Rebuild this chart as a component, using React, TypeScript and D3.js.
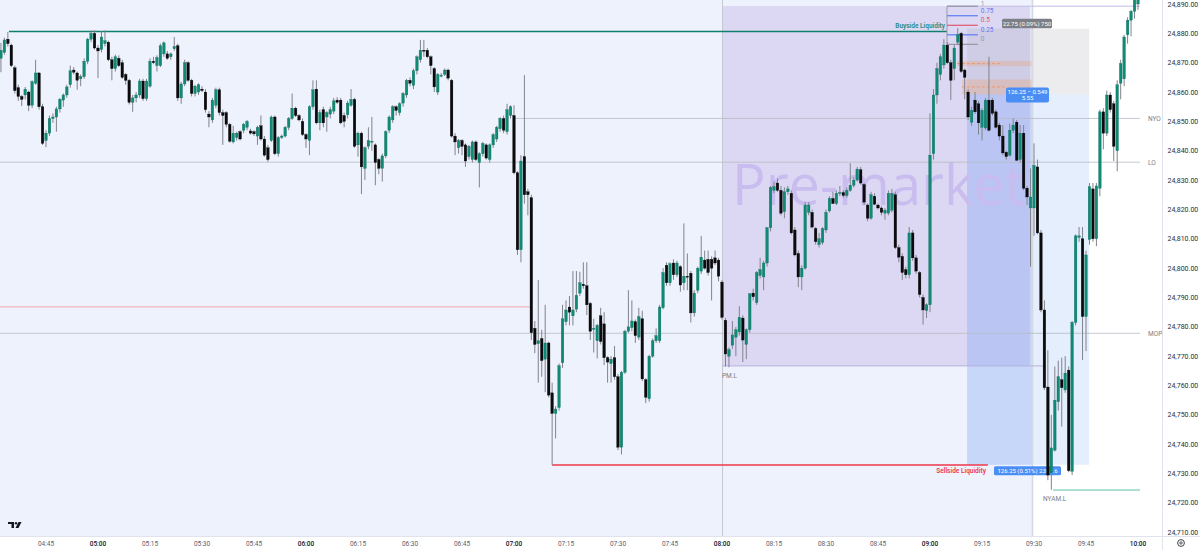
import React from 'react';
import * as d3 from 'd3';

type C = [number, number, number, number]; // open, high, low, close

// 04:32 – 05:58 (1-minute candles)
const seg0432: C[] = [
  [24871.5, 24876.75, 24866.75, 24874.25], [24873.5, 24878.5, 24872.75, 24877.75], [24878, 24880.5, 24875.5, 24876.5],
  [24876, 24876.5, 24868.5, 24869], [24868.25, 24869, 24859.5, 24860.5], [24861.5, 24862.5, 24857, 24858.5],
  [24858.5, 24859, 24855.25, 24857.5], [24859, 24861.75, 24857.5, 24861], [24860, 24860.5, 24853.5, 24855.5],
  [24855.5, 24864, 24854.5, 24863.5], [24863, 24871, 24862.5, 24866.5], [24866.5, 24866.75, 24854, 24855],
  [24855, 24856, 24842, 24842.5], [24843.5, 24847, 24841.25, 24846], [24846, 24852, 24845, 24851],
  [24851, 24852.75, 24849.5, 24851.5], [24851.5, 24855, 24846.5, 24854.25], [24854.25, 24858, 24853, 24857.5],
  [24857.25, 24859.5, 24855, 24859], [24859, 24862.5, 24858, 24861.75], [24862.5, 24869, 24861.5, 24867.25],
  [24867.5, 24868.5, 24866, 24866.75], [24866.5, 24867, 24860.75, 24864], [24864.5, 24866, 24862, 24865.25],
  [24865.25, 24871.5, 24864.5, 24870.5], [24870.5, 24878.5, 24869.5, 24878], [24878, 24881, 24877, 24880],
  [24880, 24881, 24874.5, 24875], [24875, 24876, 24864.75, 24874], [24874.5, 24880.75, 24873.5, 24878.75],
  [24876.5, 24881, 24875.5, 24877.5], [24877, 24877.5, 24870.5, 24871], [24871, 24872, 24864, 24868],
  [24868, 24872.75, 24867, 24872], [24871.5, 24872.5, 24868.5, 24869], [24870, 24871, 24864.5, 24865],
  [24866, 24866.5, 24862.5, 24864], [24864, 24864.5, 24855.75, 24856.5], [24856.5, 24859, 24853.25, 24858],
  [24858, 24860, 24856.5, 24859], [24859, 24864.5, 24858, 24863.75], [24863.75, 24864.5, 24857, 24857.75],
  [24857.75, 24864.5, 24857, 24863.75], [24862, 24871.5, 24861.5, 24870.5], [24870.5, 24872, 24869.5, 24870],
  [24869, 24872.5, 24867, 24871.75], [24869, 24876.5, 24868.5, 24875.75], [24873, 24877.25, 24872, 24876.75],
  [24873, 24874, 24871, 24871.5], [24872, 24873.5, 24871, 24873], [24874.75, 24878.75, 24874, 24875.5],
  [24875.75, 24876.5, 24857, 24858], [24858, 24863.5, 24856, 24862.75], [24862.75, 24871, 24862, 24870],
  [24870, 24870.5, 24863.5, 24864], [24864, 24864.5, 24858.5, 24859.5], [24859.5, 24862.5, 24858.5, 24862],
  [24860, 24863, 24859, 24862.5], [24861, 24862, 24860, 24860.5], [24860, 24861, 24853, 24854],
  [24852.5, 24853.5, 24848, 24851.5], [24850.5, 24858, 24849.5, 24857.25], [24855.5, 24861.5, 24854.5, 24860.75],
  [24860.75, 24861.5, 24852, 24853], [24853, 24854, 24842, 24852], [24853, 24853.5, 24848, 24849],
  [24849, 24849.5, 24842.75, 24843.25], [24843, 24848.5, 24842.5, 24846], [24844.5, 24846.5, 24843.5, 24846],
  [24846.5, 24847, 24843.5, 24844], [24847, 24849.5, 24846, 24849], [24848, 24850.5, 24847, 24850],
  [24846.75, 24847.5, 24845.5, 24846], [24846.5, 24847, 24845, 24845.75], [24845, 24848.5, 24842, 24848],
  [24848.5, 24852, 24843.5, 24844], [24844, 24845, 24838, 24838.5], [24841, 24842, 24836.25, 24837],
  [24843.5, 24852, 24843, 24851.5], [24851.5, 24852, 24838.5, 24839], [24839, 24845, 24838, 24844.5],
  [24844.5, 24845.5, 24844, 24845], [24845, 24848.5, 24844.5, 24848], [24848, 24851.5, 24847, 24851],
  [24851, 24859.5, 24850.5, 24854.5], [24854.5, 24855, 24851.5, 24852], [24852, 24852.5, 24850, 24850.5],
];

// 05:59 – 07:00
const seg0559: C[] = [
  [24850, 24851, 24845, 24845.5], [24845.5, 24846, 24841, 24844], [24843.5, 24855.5, 24838.5, 24855],
  [24855, 24864, 24854, 24860.75], [24861, 24864, 24849, 24849.5], [24849.5, 24854, 24847, 24853],
  [24854, 24855, 24848, 24849.5], [24851.5, 24853.5, 24846.5, 24853], [24852.5, 24855, 24851, 24854],
  [24853.5, 24858, 24852.5, 24857], [24857.25, 24858.25, 24856, 24856.5], [24857.25, 24858, 24849, 24849.5],
  [24852, 24853, 24848, 24850], [24852.25, 24857, 24851, 24856.25], [24855.5, 24861, 24855, 24857.5],
  [24857.5, 24858, 24841, 24841.5], [24842, 24846.5, 24838, 24846], [24846, 24846.5, 24825.25, 24834.5],
  [24834, 24841.5, 24830, 24841], [24841.5, 24848, 24840.5, 24843.5], [24843, 24851.5, 24840, 24843.25],
  [24842, 24842.5, 24828.25, 24836], [24837, 24837.5, 24832, 24834], [24834, 24839, 24829.5, 24838.25],
  [24838.25, 24847, 24837.5, 24846.5], [24847, 24852, 24846, 24851.5], [24850.5, 24855.5, 24849.5, 24855],
  [24855, 24855.5, 24852, 24853.75], [24853, 24856.5, 24852, 24856], [24856.25, 24860, 24855, 24859.5],
  [24859, 24864.5, 24858, 24864], [24864, 24865, 24862, 24863], [24862.25, 24868, 24861, 24867.25],
  [24867.25, 24872.5, 24866, 24872], [24871, 24877.75, 24870, 24874.25], [24874.25, 24877.75, 24872, 24874],
  [24874.25, 24875, 24871.5, 24872], [24872, 24872.5, 24866, 24869], [24868, 24868.5, 24860, 24861.75],
  [24860, 24866.5, 24859, 24866], [24865.5, 24866.5, 24865, 24865.75], [24866, 24868, 24865.5, 24867.5],
  [24867.5, 24868, 24864, 24864.75], [24864, 24864.5, 24844.5, 24845], [24845, 24846, 24838.5, 24843],
  [24841, 24844, 24839, 24843.5], [24843.5, 24844, 24838.5, 24841.5], [24842, 24842.5, 24834.5, 24836.5],
  [24838, 24842, 24837, 24841.5], [24837, 24843.5, 24836, 24843], [24843, 24843.5, 24836.5, 24837],
  [24836, 24839.5, 24827.5, 24839], [24839, 24843, 24838, 24842.5], [24842, 24842.5, 24837, 24837.5],
  [24837, 24842.5, 24836, 24842], [24842, 24846, 24841, 24845.5], [24844, 24848.5, 24843, 24848],
  [24847.5, 24851.5, 24846.5, 24851], [24851, 24852, 24846, 24847], [24846.5, 24856, 24845.5, 24854],
  [24852, 24855.5, 24851, 24855], [24852, 24855.5, 24832, 24832.5],
];

// 07:01 – 07:59
const seg0701: C[] = [
  [24832.5, 24833, 24804.5, 24806.25], [24806.25, 24838.5, 24802, 24836.5], [24838, 24865.75, 24822, 24825],
  [24826, 24827, 24818, 24825], [24824, 24825, 24775.5, 24778], [24779.5, 24782, 24771, 24774],
  [24774.25, 24796, 24761, 24775.25], [24776, 24779, 24763, 24768.5], [24769, 24787.5, 24757.75, 24774.5],
  [24774.5, 24775, 24756, 24756.75], [24757.5, 24761, 24733, 24750.5], [24750.5, 24753, 24742, 24752],
  [24752.5, 24767.5, 24751.5, 24766.75], [24767.75, 24787.5, 24766, 24782.75], [24781.75, 24789, 24780.5, 24785.75],
  [24786.75, 24790.5, 24780.5, 24785], [24783.75, 24799, 24780.5, 24785.75], [24786, 24799, 24785, 24790.75],
  [24791.5, 24798.75, 24790.5, 24795], [24794.5, 24802, 24793, 24794], [24794, 24802, 24784, 24787.5],
  [24788, 24788.5, 24775.5, 24778.5], [24779.25, 24782.75, 24771.25, 24779.5], [24775.25, 24781, 24769.25, 24780.5],
  [24783.75, 24786.5, 24774, 24775], [24781, 24785, 24767, 24769.5], [24769.5, 24770, 24761, 24768],
  [24767.5, 24770, 24761, 24769], [24769.5, 24773.5, 24762, 24763], [24763, 24764, 24738, 24739],
  [24739, 24765, 24736.5, 24764.5], [24764.5, 24779, 24764, 24778.5], [24778.5, 24792.5, 24778, 24780],
  [24779.75, 24789, 24778.5, 24782], [24781.75, 24782.5, 24774.5, 24777], [24776.5, 24786.5, 24775.5, 24783.5],
  [24782.75, 24785.5, 24761.5, 24762.25], [24762, 24762.5, 24754, 24756], [24755.5, 24770.5, 24754.5, 24770],
  [24770, 24776, 24769.5, 24775.25], [24775.25, 24779.5, 24774.5, 24777], [24775.25, 24787.5, 24774.5, 24786.75],
  [24786.5, 24800, 24786, 24798.5], [24801, 24802, 24794, 24795], [24795, 24802, 24794, 24801.5],
  [24801.75, 24803, 24796, 24797.75], [24797.75, 24802.5, 24797, 24801.75], [24800.5, 24801, 24792, 24794.25],
  [24795, 24815.25, 24792.5, 24797.25], [24797.25, 24805, 24792.5, 24797], [24798.25, 24799, 24781.5, 24784.75],
  [24784.75, 24792.5, 24783.5, 24791.5], [24792.5, 24800.5, 24791.5, 24800], [24799, 24811, 24798, 24803.75],
  [24802.75, 24806, 24799.5, 24800], [24803, 24806, 24797.5, 24798.5], [24803, 24804, 24789, 24800],
  [24803.5, 24806, 24801, 24801.75], [24802.75, 24803.5, 24795.5, 24797.25],
];

// 08:00 – 08:59
const seg0800: C[] = [
  [24795.25, 24796, 24782.5, 24783.25], [24782.25, 24783, 24766.5, 24770.75], [24770, 24773, 24766.25, 24772.25],
  [24773.75, 24782, 24772.5, 24777.25], [24776.5, 24780, 24770, 24779], [24778.25, 24787, 24777, 24783.25],
  [24783, 24784, 24768, 24775.5], [24774, 24779.5, 24769, 24779], [24779, 24791.5, 24778, 24791.25],
  [24791.5, 24793, 24789, 24790.25], [24788.25, 24799, 24787.5, 24798.5], [24797.5, 24803.5, 24796.5, 24799.5],
  [24797, 24802.5, 24792.5, 24801.75], [24801.75, 24814, 24800.5, 24813.75], [24813.75, 24828, 24812.5, 24827.5],
  [24826.5, 24829.5, 24825.5, 24827.75], [24829, 24830.5, 24826, 24826.5], [24826.5, 24828, 24818, 24818.75],
  [24819.25, 24827.5, 24817, 24826], [24826, 24828, 24825, 24827], [24825.5, 24826.5, 24811.5, 24812],
  [24813, 24814, 24804, 24804.5], [24805, 24806, 24793.5, 24797], [24797, 24801, 24792.5, 24800],
  [24800, 24822.5, 24799.5, 24821.5], [24819, 24822.5, 24818, 24821.5], [24819, 24820, 24813.5, 24814],
  [24813.5, 24814, 24808, 24809], [24808, 24812, 24807, 24810], [24808.75, 24814, 24808, 24813.5],
  [24813, 24820, 24812, 24819], [24819.5, 24824.5, 24819, 24823.75], [24823.75, 24826, 24822, 24822],
  [24822, 24826.5, 24821.5, 24825.5], [24825.5, 24828, 24824.5, 24825.75], [24825.75, 24826.5, 24824, 24824.75],
  [24824.75, 24827.5, 24824, 24826.5], [24826.5, 24835.75, 24826, 24828.25], [24828.25, 24831, 24827.5, 24830],
  [24830, 24834.5, 24829.5, 24833.75], [24833.5, 24834.5, 24828.5, 24829], [24828.5, 24829, 24821.5, 24822.5],
  [24821.5, 24822, 24816, 24817], [24817, 24826, 24816.5, 24825], [24824.5, 24825.5, 24821.5, 24821.75],
  [24821.5, 24822, 24820, 24820.5], [24820.5, 24821, 24818, 24819], [24818.75, 24820.5, 24816.5, 24819.75],
  [24818.75, 24826.5, 24818, 24825.5], [24819.75, 24827, 24819, 24825.5], [24825, 24826, 24806.5, 24807],
  [24807, 24808, 24802, 24803.75], [24804, 24805, 24796, 24798.5], [24799.5, 24800.5, 24796.5, 24797.75],
  [24797.75, 24814, 24796.5, 24812], [24812, 24813, 24802.5, 24803.5], [24803.5, 24804.5, 24798, 24799],
  [24798.5, 24799, 24790, 24791], [24790, 24791, 24780.75, 24785.75], [24785.5, 24788, 24783, 24787.5],
];

// 09:00 – 10:00
const seg0900: C[] = [
  [24787.5, 24852.75, 24785, 24838.5], [24839, 24861, 24837, 24859], [24859, 24870, 24856, 24868],
  [24866, 24873, 24864, 24872], [24869.25, 24878, 24868, 24876], [24876, 24877, 24869.5, 24870],
  [24870, 24871, 24857.25, 24864], [24868, 24876, 24864, 24875], [24877, 24881.75, 24876, 24879.5],
  [24880, 24880.5, 24866.5, 24867], [24867.5, 24868, 24857.5, 24865], [24860, 24861, 24850.5, 24851.5],
  [24849.75, 24855, 24848.5, 24853.75], [24857.25, 24860, 24852.5, 24853.25], [24856, 24857, 24845.5, 24849.5],
  [24848, 24854.5, 24843.5, 24853.75], [24847.75, 24858, 24847, 24857.25], [24857.25, 24872, 24846.5, 24847],
  [24857.25, 24858, 24852, 24852.75], [24853.25, 24854, 24847.5, 24848], [24848.75, 24849.5, 24843.5, 24845],
  [24845, 24848.75, 24838.5, 24839.25], [24839.5, 24840, 24837, 24838], [24838.5, 24849.25, 24838, 24847],
  [24847, 24851, 24846, 24848.75], [24849.75, 24850.5, 24836.5, 24836.75], [24837, 24848.75, 24836, 24846],
  [24846, 24848.75, 24826.5, 24827.25], [24827.25, 24828, 24821.5, 24824.25], [24820.5, 24834, 24800.5, 24824.25],
  [24820.5, 24842.5, 24811, 24835], [24834.5, 24837, 24811.5, 24812], [24812, 24813, 24785, 24785.75],
  [24785.75, 24789, 24758.5, 24759.25], [24759.5, 24772, 24727.75, 24729.5], [24730.25, 24750, 24724.5, 24738.75],
  [24738, 24766.5, 24737.5, 24755], [24754.5, 24768.5, 24751.5, 24763], [24762, 24769.5, 24746, 24759.25],
  [24758.5, 24770, 24757.5, 24764.25], [24765.25, 24766.5, 24730.5, 24731], [24730.75, 24782, 24729.5, 24781.5],
  [24781.5, 24811.5, 24780.5, 24811], [24810.5, 24814, 24809, 24811], [24810, 24814, 24768.75, 24783.5],
  [24783.5, 24806, 24771.75, 24804.5], [24809.75, 24829, 24808, 24827.75], [24827, 24829, 24809, 24810],
  [24810, 24829, 24807.5, 24828], [24827.25, 24854, 24824.5, 24853.25], [24853.25, 24854.5, 24840.5, 24846],
  [24846, 24860.5, 24845, 24859], [24859, 24860, 24853, 24854], [24856, 24857, 24836.5, 24841.5],
  [24840, 24864, 24833, 24862.5], [24863, 24871, 24857.5, 24869.75], [24864.5, 24879.5, 24862, 24878.75],
  [24879.5, 24885.5, 24876.5, 24884.5], [24884.5, 24888, 24879, 24887.5], [24887.5, 24892, 24885, 24891.5],
  [24890, 24894, 24888, 24892.5],
];

const priceTicks = [24710, 24720, 24730, 24740, 24750, 24760, 24770, 24780, 24790, 24800, 24810, 24820, 24830, 24840, 24850, 24860, 24870, 24880, 24890];
const timeTicks = ['04:45', '05:00', '05:15', '05:30', '05:45', '06:00', '06:15', '06:30', '06:45', '07:00', '07:15', '07:30', '07:45', '08:00', '08:15', '08:30', '08:45', '09:00', '09:15', '09:30', '09:45', '10:00'];
const firstBar = '04:32';

// horizontal levels: [label, price, fromIndex]
const grayLevels: [string, number, number][] = [
  ['NYO', 24851, 147.7],
  ['LO', 24836.1, -2],
  ['MOP', 24777.8, -2],
];
const buyside = { label: 'Buyside Liquidity', price: 24880.6, from: 2.3, to: 272.9 };
const sellside = { label: 'Sellside Liquidity', price: 24732.9, from: 159, to: 284.7 };
const redLevel = { price: 24786.8, from: -2, to: 152.6 };
const nyamLow = { label: 'NYAM.L', price: 24724.4, from: 303.5 };
const preMarket = { label: 'Pre-market', from: 208, to: 296.8, top: 24889.3, low: 24766.7, lowLabel: 'PM.L', lowTo: 301.2 };
const position = { from: 278.7, to: 313.9, entry: 24859.2, target: 24881.6, stop: 24733 };
const fibLevels: [string, number, string][] = [
  ['1', 1, '#8f93a0'], ['0.75', 0.75, '#5b7cf0'], ['0.5', 0.5, '#e0566b'], ['0.25', 0.25, '#5b7cf0'], ['0', 0, '#9598a1'],
];
const fib = { from: 272.9, to: 281.8, p0: 24876.25, p1: 24889.25 };
const fvgs: [number, number, number][] = [
  [275.8, 24870.6, 24868.8],
  [277.2, 24864.3, 24859.2],
];

const FONT = 'Roboto, "Liberation Sans", Arial, sans-serif';

export default function App() {
  const candles = [...seg0432, ...seg0559, ...seg0701, ...seg0800, ...seg0900];
  const plotRight = 1162.5;
  const plotBottom = 536.5;
  const y = d3.scaleLinear().domain([24710, 24890]).range([532.3, 4.0]);
  const step = 3.4667;
  const x = d3.scaleLinear().domain([0, candles.length - 1]).range([0.93, 0.93 + (candles.length - 1) * step]);
  const toMin = (s: string) => { const [h, m] = s.split(':').map(Number); return h * 60 + m; };
  const t0 = toMin(firstBar);
  const tx = (s: string) => x(toMin(s) - t0);
  const lineEnd = x(candles.length - 1) + 2;
  const sessionEnd = tx('09:30') - 2;
  const bw = 2.6;

  const fibY = (r: number) => y(fib.p0 + (fib.p1 - fib.p0) * r);

  return (
    <div style={{ position: 'absolute', left: 0, top: 0, width: 1200, height: 550, background: '#fff' }}>
      <svg width={1200} height={550} style={{ display: 'block', fontFamily: FONT }}>
        <defs>
          <clipPath id="plot"><rect x={0} y={0} width={plotRight} height={plotBottom} /></clipPath>
        </defs>
        <rect x={0} y={0} width={1200} height={550} fill="#ffffff" />
        <g clipPath="url(#plot)">
          {/* session background */}
          <rect x={0} y={0} width={sessionEnd} height={plotBottom} fill="#eef2fd" />
          {/* pre-market box */}
          <rect x={x(preMarket.from)} y={y(preMarket.top)} width={x(preMarket.to) - x(preMarket.from)} height={y(preMarket.low) - y(preMarket.top)} fill="#dcd8f4" />
          {/* position tool: profit (gray) and risk (blue) zones */}
          <rect x={x(position.from)} y={y(position.target)} width={x(position.to) - x(position.from)} height={y(position.entry) - y(position.target)} fill="rgba(150,150,160,0.18)" />
          <rect x={x(position.from)} y={y(position.entry)} width={x(position.to) - x(position.from)} height={y(position.stop) - y(position.entry)} fill="rgba(120,170,245,0.20)" />
          <rect x={x(position.from)} y={y(position.entry)} width={sessionEnd - x(position.from)} height={y(position.stop) - y(position.entry)} fill="rgba(90,130,235,0.12)" />
          {/* watermark */}
          <text x={x(preMarket.from) + 10} y={205} fontSize={56} fill="#c8bdee" fontFamily='"Open Sans", "Noto Sans", sans-serif'>{preMarket.label}</text>
          {/* FVG boxes */}
          {fvgs.map(([from, top, bot], k) => (
            <g key={'fvg' + k}>
              <rect x={x(from)} y={y(top)} width={sessionEnd - x(from)} height={y(bot) - y(top)} fill="rgba(245,140,70,0.22)" />
              <line x1={x(from)} x2={x(from) + 45} y1={(y(top) + y(bot)) / 2} y2={(y(top) + y(bot)) / 2} stroke="#f09a6a" strokeWidth={1} strokeDasharray="3,2" />
            </g>
          ))}
          {/* session dividers */}
          <line x1={tx('08:00') + 0.5} x2={tx('08:00') + 0.5} y1={0} y2={plotBottom} stroke="#c6c9d2" strokeWidth={1} />
          <line x1={sessionEnd + 0.5} x2={sessionEnd + 0.5} y1={0} y2={plotBottom} stroke="#d5d8e0" strokeWidth={1.5} />
          {/* gray levels */}
          {grayLevels.map(([label, p, from]) => (
            <g key={label}>
              <line x1={x(from)} x2={lineEnd} y1={y(p)} y2={y(p)} stroke="#b8bbc4" strokeWidth={0.8} />
              <text x={1148} y={y(p) + 2.5} fontSize={6.5} fill="#7b7e88">{label}</text>
            </g>
          ))}
          {/* red previous level */}
          <line x1={x(redLevel.from)} x2={x(redLevel.to)} y1={y(redLevel.price)} y2={y(redLevel.price)} stroke="#f4a3aa" strokeWidth={1} />
          {/* buyside */}
          <line x1={x(buyside.from)} x2={x(buyside.to)} y1={y(buyside.price)} y2={y(buyside.price)} stroke="#0f7f6e" strokeWidth={1.5} />
          <text x={x(buyside.to) - 2} y={y(buyside.price) - 4} fontSize={6.5} fill="#2b8a80" textAnchor="end" fontWeight={600}>{buyside.label}</text>
          {/* sellside */}
          <line x1={x(sellside.from)} x2={x(sellside.to)} y1={y(sellside.price)} y2={y(sellside.price)} stroke="#ef3849" strokeWidth={1.5} />
          <text x={x(sellside.to) - 2} y={y(sellside.price) + 7.5} fontSize={6.5} fill="#ef3849" textAnchor="end" fontWeight={600}>{sellside.label}</text>
          {/* PM low */}
          <line x1={x(preMarket.from)} x2={x(preMarket.lowTo)} y1={y(preMarket.low)} y2={y(preMarket.low)} stroke="#b7b0dd" strokeWidth={1} />
          <text x={x(preMarket.from)} y={y(preMarket.low) + 12} fontSize={6.5} fill="#7b7e88">{preMarket.lowLabel}</text>
          {/* NYAM low */}
          <line x1={x(nyamLow.from)} x2={lineEnd} y1={y(nyamLow.price)} y2={y(nyamLow.price)} stroke="#5dbfa6" strokeWidth={1} />
          <text x={x(nyamLow.from) - 10} y={y(nyamLow.price) + 11} fontSize={6.5} fill="#7b7e88">{nyamLow.label}</text>
          {/* fib */}
          <line x1={x(fib.from)} x2={lineEnd} y1={fibY(1)} y2={fibY(1)} stroke="#c3bbe8" strokeWidth={1} />
          <line x1={x(fib.from)} x2={x(fib.from)} y1={fibY(1)} y2={fibY(0)} stroke="#9a9ca6" strokeWidth={1} />
          {fibLevels.map(([lab, r, col]) => (
            <g key={'fib' + lab}>
              <line x1={x(fib.from)} x2={x(fib.to)} y1={fibY(r)} y2={fibY(r)} stroke={col} strokeWidth={1.2} />
              <text x={x(fib.to) + 3} y={Math.max(fibY(r) - 3, 6)} fontSize={6.5} fill={col}>{lab}</text>
            </g>
          ))}
          {/* position labels */}
          <rect x={1002} y={y(position.target) - 10} width={50} height={9.5} rx={1.5} fill="#7d7f88" />
          <text x={1027} y={y(position.target) - 3} fontSize={6} fill="#fff" textAnchor="middle">22.75 (0.09%) 750</text>
          <rect x={1006} y={y(position.entry) - 7} width={43} height={15} rx={2} fill="#4a8ef5" />
          <text x={1027.5} y={y(position.entry) - 0.5} fontSize={6} fill="#fff" textAnchor="middle">126.25 − 0.549</text>
          <text x={1027.5} y={y(position.entry) + 6} fontSize={6} fill="#fff" textAnchor="middle">5.55</text>
          <rect x={994} y={y(position.stop) + 1.5} width={67} height={9} rx={1.5} fill="#4a8ef5" />
          <text x={1027.5} y={y(position.stop) + 8.3} fontSize={6} fill="#fff" textAnchor="middle">126.25 (0.51%) 2382.6</text>
          {/* candles */}
          {candles.map(([o, h, l, c], i) => {
            const up = c >= o;
            const cx = x(i);
            const top = y(Math.max(o, c));
            const hgt = Math.max(1, y(Math.min(o, c)) - top);
            return (
              <g key={i}>
                <line x1={cx} x2={cx} y1={y(h)} y2={y(l)} stroke="#80838d" strokeWidth={1} />
                <rect x={cx - bw / 2} y={top} width={bw} height={hgt} fill={up ? '#0f8a74' : '#0b0b0d'} stroke={up ? '#0a6a5a' : '#000'} strokeWidth={0.3} />
              </g>
            );
          })}
        </g>
        {/* axes */}
        <line x1={0} x2={1200} y1={plotBottom} y2={plotBottom} stroke="#e0e3eb" strokeWidth={1} />
        <line x1={plotRight} x2={plotRight} y1={0} y2={550} stroke="#e0e3eb" strokeWidth={1} />
        {priceTicks.map((p) => (
          <text key={p} x={1167.5} y={y(p) + 2.5} fontSize={7} fill="#2a2e39">{d3.format(',.2f')(p)}</text>
        ))}
        {timeTicks.map((t) => (
          <text key={t} x={tx(t)} y={546} fontSize={6.5} textAnchor="middle" fill={t.endsWith(':00') ? '#131722' : '#5d606b'} fontWeight={t.endsWith(':00') ? 500 : 400}>{t}</text>
        ))}
        {/* TradingView logo */}
        <g transform="translate(8,522)" fill="#131722">
          <path d="M0 0 H6 V6 H3.5 V2 H0 Z" />
          <circle cx={8} cy={1.2} r={1.2} />
          <path d="M10.5 0 H13.5 L10.5 6 H7.5 Z" />
        </g>
        {/* settings icon */}
        <circle cx={1181} cy={543} r={3.4} fill="none" stroke="#2a2e39" strokeWidth={0.9} />
        <circle cx={1181} cy={543} r={1.2} fill="none" stroke="#2a2e39" strokeWidth={0.8} />
      </svg>
    </div>
  );
}
